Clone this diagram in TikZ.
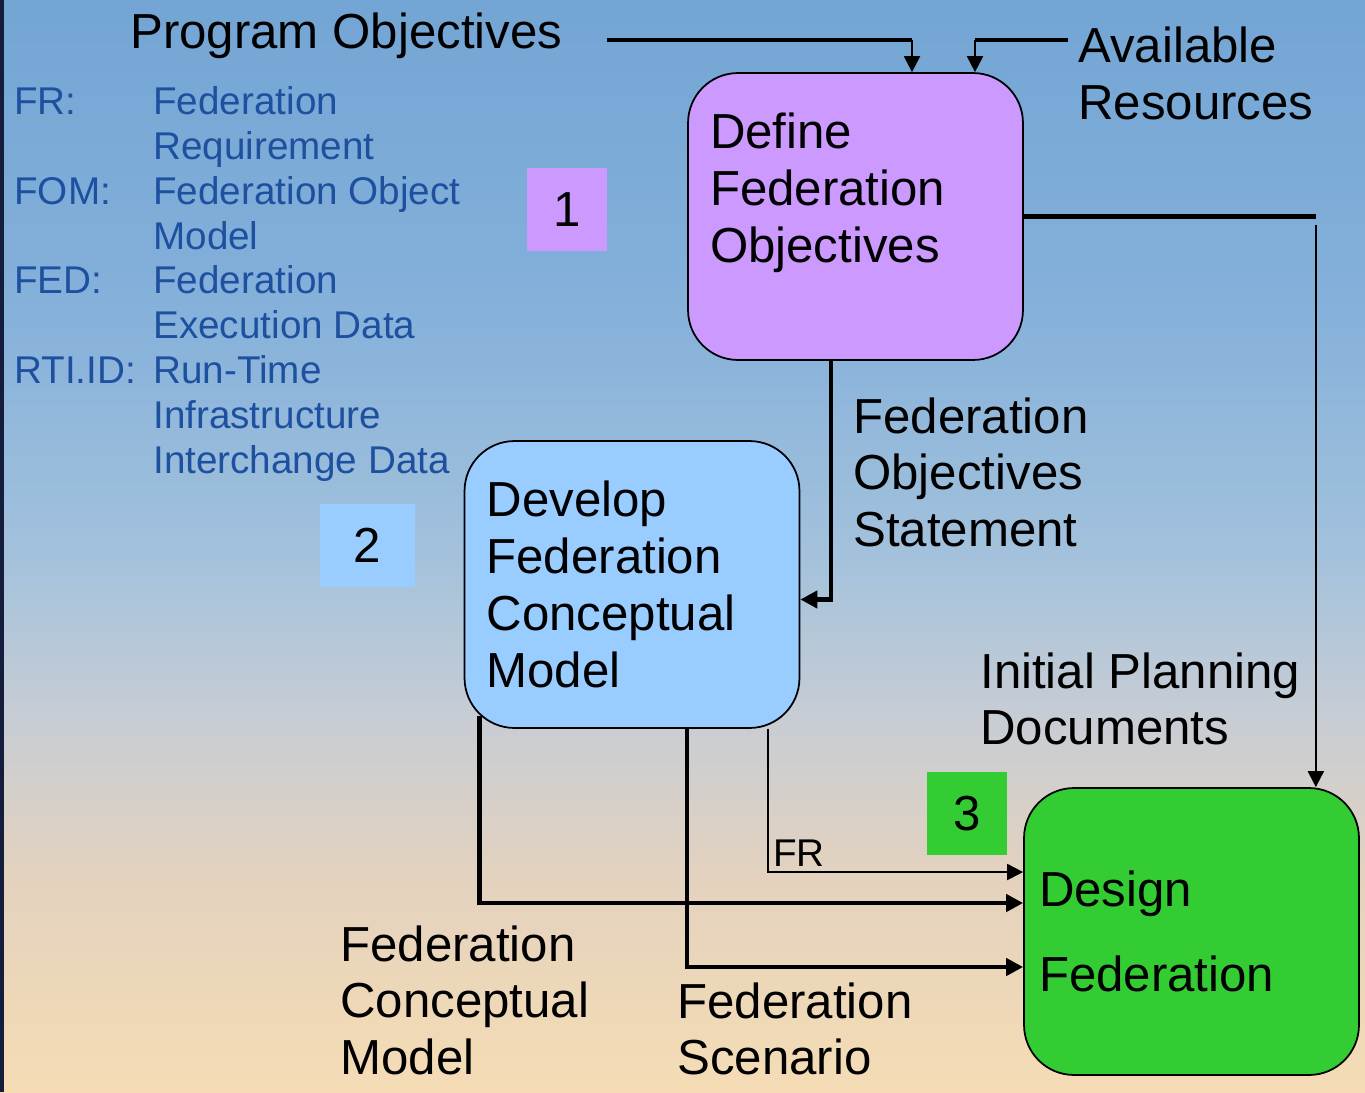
\documentclass[tikz,border=0pt]{standalone}
\usepackage{fontspec}
\setmainfont{Liberation Sans}
\usepackage{xcolor}
\usepackage{tikz}
\usetikzlibrary{arrows.meta}
\definecolor{lilac}{HTML}{CC99FF}
\definecolor{skyblue}{HTML}{99CCFF}
\definecolor{leaf}{HTML}{33CC33}
\definecolor{keyblue}{HTML}{1E50A0}
\definecolor{skytop}{RGB}{115,165,212}
\definecolor{skyhigh}{RGB}{132,176,218}
\definecolor{skymid}{RGB}{162,193,220}
\definecolor{skyhaze}{RGB}{200,205,212}
\definecolor{skylow}{RGB}{228,210,190}
\definecolor{skysand}{RGB}{245,220,180}
\definecolor{edge}{RGB}{20,30,60}
\pgfdeclareverticalshading{skyfade}{100bp}{color(0bp)=(skysand); color(25bp)=(skysand);
  color(34.7bp)=(skylow); color(42bp)=(skyhaze); color(49.8bp)=(skymid);
  color(61.3bp)=(skyhigh); color(75bp)=(skytop); color(100bp)=(skytop)}
\newcommand{\diagfont}{\fontsize{28}{32.4}\selectfont}
\newcommand{\keyfont}{\fontsize{22}{25.5}\selectfont}
\tikzset{
  procbox/.style={rectangle,rounded corners=1cm,draw=black,line width=1pt,
    minimum width=6.7cm,minimum height=5.74cm,text width=5.82cm,inner xsep=0.44cm,
    align=left,font=\diagfont},
  numbox/.style={rectangle,minimum width=1.6cm,minimum height=1.66cm,font=\diagfont},
  lbl/.style={anchor=north west,inner sep=0pt,align=left,font=\diagfont},
  heavy/.style={line width=2.8pt,draw=black},
  heavyarr/.style={heavy,-{Triangle[length=3.4mm,width=3.4mm]}},
  thinarr/.style={line width=1.1pt,draw=black,-{Triangle[length=3.2mm,width=3.2mm]}}
}
\begin{document}
\begin{tikzpicture}[x=0.02cm,y=-0.02cm]
\useasboundingbox (0,0) rectangle (1365,1092);
\shade[shading=skyfade] (0,0) rectangle (1365,1092);
\fill[edge] (0,0) rectangle (4,1092);
% legend
\node[anchor=north west,inner sep=0pt,text=keyblue,font=\keyfont] (key) at (14,83)
  {\begin{tabular}{@{}p{2.78cm}@{}l@{}}
   FR: & Federation\\
       & Requirement\\
   FOM: & Federation Object\\
        & Model\\
   FED: & Federation\\
        & Execution Data\\
   RTI.ID: & Run-Time\\
           & Infrastructure\\
           & Interchange Data
   \end{tabular}};
% process boxes
\node[procbox,fill=lilac] (def) at (855.5,216.5) {Define\\Federation\\Objectives\\\mbox{}};
\node[procbox,fill=skyblue] (dev) at (632,584.5) {Develop\\Federation\\Conceptual\\Model};
\node[procbox,fill=leaf,inner xsep=0.3cm,text width=6.1cm] (des) at (1191.5,931.5) {Design\\[15.6pt]Federation};
\node[numbox,fill=lilac] (n1) at (567,209.5) {1};
\node[numbox,fill=skyblue,minimum width=1.9cm] (n2) at (367.5,545.5) {2};
\node[numbox,fill=leaf] (n3) at (967,813.5) {3};
% labels
\node[lbl] (prog) at (130,13) {Program Objectives};
\node[lbl] (res) at (1078,27) {Available\\Resources};
\node[lbl] (fos) at (853,397) {Federation\\Objectives\\Statement};
\node[lbl] (ipd) at (980,652) {Initial Planning\\Documents};
\node[lbl] (fcm) at (340,925) {Federation\\Conceptual\\Model};
\node[lbl] (scn) at (677,982) {Federation\\Scenario};
\node[lbl,font=\keyfont] (frl) at (773,840) {FR};
% connectors
\coordinate (po) at (607,40);
\coordinate (ar) at (1068,40);
\draw[heavy] (po) -- ++(305,0) coordinate (pobend);
\draw[thinarr] (pobend) -- (pobend |- def.north);
\draw[heavy] (ar) -- ++(-93,0) coordinate (arbend);
\draw[thinarr] (arbend) -- (arbend |- def.north);
\draw[heavy] (def.east) -- ++(292,0) coordinate (ipdbend);
\draw[thinarr] ([yshift=-0.16cm]ipdbend) -- (ipdbend |- des.north);
\draw[heavyarr] ([xshift=-0.49cm]def.south) |- ([yshift=-0.3cm]dev.east);
\draw[heavyarr] ([xshift=0.32cm,yshift=0.26cm]dev.south west) |- ([yshift=0.57cm]des.west);
\draw[heavyarr] ([xshift=1.1cm]dev.south) |- ([yshift=-0.71cm]des.west);
\draw[thinarr] ([xshift=2.72cm]dev.south) |- ([yshift=1.19cm]des.west);
\end{tikzpicture}
\end{document}
